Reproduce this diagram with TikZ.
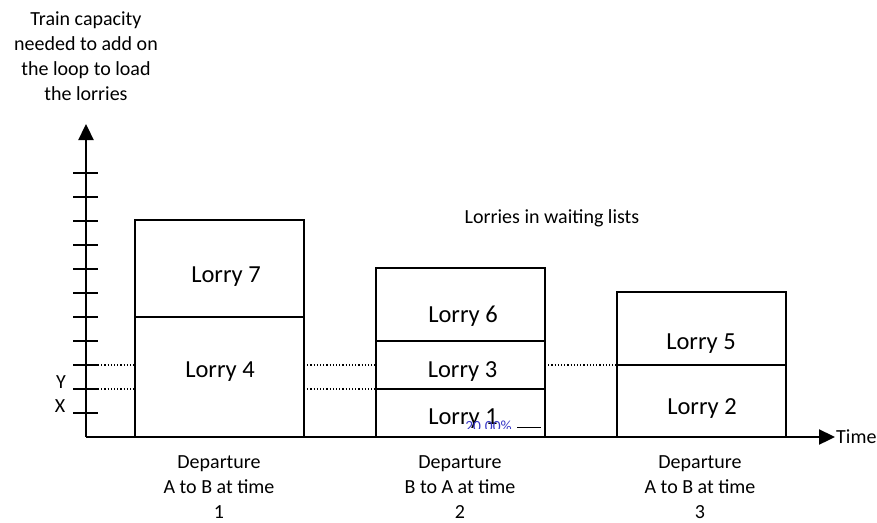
\documentclass[tikz,border=0pt]{standalone}
\usepackage{fontspec}
\setmainfont{Carlito}
\usetikzlibrary{arrows.meta}
\begin{document}
\begin{tikzpicture}[x=1pt,y=-1pt,
  boxline/.style={draw, line width=1.5pt},
  axisline/.style={line width=2.3pt},
  tickline/.style={line width=1.5pt},
  dotline/.style={dotted, line width=1.2pt},
  lorry/.style={anchor=base, inner sep=0pt, font=\fontsize{24.5}{29}\selectfont},
  small/.style={inner sep=0pt, font=\fontsize{20}{25}\selectfont, align=center},
  lbl/.style={inner sep=0pt, font=\fontsize{20}{25}\selectfont}]
\useasboundingbox (0,0) rectangle (877,522);
% axes
\coordinate (O) at (86,437);
\coordinate (ytip) at (86,124);
\coordinate (xtip) at (835,437);
\draw[axisline, -{Triangle[length=16pt,width=15pt]}] (O) -- (ytip);
\draw[axisline, -{Triangle[length=16pt,width=15pt]}] (O) -- (xtip);
\foreach \k in {1,...,11} \draw[tickline] (73,{437-24*\k}) -- (98,{437-24*\k});
% boxes
\draw[boxline] (135,437) rectangle (304,220);
\draw[boxline] (135,317) -- (304,317);
\draw[boxline] (376,437) rectangle (545,268);
\draw[boxline] (376,341) -- (545,341);
\draw[boxline] (376,389) -- (545,389);
\draw[boxline] (617,437) rectangle (786,292);
\draw[boxline] (617,365) -- (786,365);
% dotted levels
\draw[dotline] (98,365) -- (135,365);
\draw[dotline] (98,389) -- (135,389);
\draw[dotline] (304,365) -- (376,365);
\draw[dotline] (304,389) -- (376,389);
\draw[dotline] (545,365) -- (617,365);
% lorry labels
\node[lorry] (l7) at (226,282) {Lorry 7};
\node[lorry] (l4) at (220,377) {Lorry 4};
\node[lorry] (l6) at (463,322) {Lorry 6};
\node[lorry] (l3) at (462.5,377) {Lorry 3};
\node[lorry] (l1) at (463,424) {Lorry 1};
\node[lorry] (l5) at (701,349) {Lorry 5};
\node[lorry] (l2) at (702,414) {Lorry 2};
\begin{scope}
\clip (440,410) rectangle (540,428);
\node[anchor=base, inner sep=0pt, text=blue!55!gray, font=\fontsize{15.5}{18}\selectfont] (pct) at (488.5,431) {20.00\%};
\end{scope}
\draw[line width=0.8pt] (517,427) -- (541,427);
% axis labels
\node[small] (title) at (86,56) {Train capacity\\needed to add on\\the loop to load\\the lorries};
\node[small] (wait) at (552,218) {Lorries in waiting lists};
\node[lbl, anchor=west] (time) at (836,437) {Time};
\node[lbl] (ylab) at (61,382) {Y};
\node[lbl] (xlab) at (60,406) {X};
\node[small] (d1) at (219,487) {Departure\\A to B at time\\1};
\node[small] (d2) at (460,487) {Departure\\B to A at time\\2};
\node[small] (d3) at (700,487) {Departure\\A to B at time\\3};
\end{tikzpicture}
\end{document}
